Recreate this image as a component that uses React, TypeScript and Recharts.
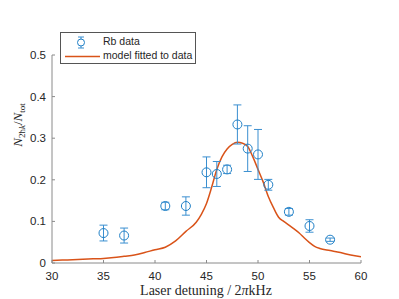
import React from "react"
import { ComposedChart, Scatter, Line, XAxis, YAxis, Legend } from "recharts"

const detuning = [35, 37, 41, 43, 45, 46, 47, 48, 49, 50, 51, 53, 55, 57]
const fraction = [0.072, 0.066, 0.137, 0.137, 0.218, 0.214, 0.225, 0.333, 0.275, 0.261, 0.188, 0.123, 0.089, 0.056]
const fractionErr = [0.019, 0.018, 0.009, 0.022, 0.037, 0.03, 0.01, 0.047, 0.055, 0.06, 0.013, 0.008, 0.015, 0.004]

const modelX = [30, 31, 32, 33, 34, 35, 36, 37, 38, 39, 40, 41, 42, 43, 44, 44.5, 45, 45.5, 46, 46.5, 47, 47.5, 48, 48.5, 49, 49.5, 50, 50.5, 51, 51.5, 52, 52.5, 53, 53.5, 54, 54.5, 55, 55.5, 56, 57, 58, 59, 60]
const modelY = [0.006, 0.007, 0.008, 0.009, 0.01, 0.011, 0.013, 0.016, 0.019, 0.025, 0.032, 0.038, 0.053, 0.076, 0.098, 0.117, 0.143, 0.182, 0.225, 0.255, 0.274, 0.285, 0.29, 0.288, 0.28, 0.255, 0.225, 0.195, 0.16, 0.133, 0.11, 0.1, 0.091, 0.082, 0.072, 0.06, 0.049, 0.04, 0.035, 0.03, 0.025, 0.019, 0.015]

const xTicks = [30, 35, 40, 45, 50, 55, 60]
const yTicks = [0, 0.1, 0.2, 0.3, 0.4, 0.5]

const BLUE = "#1f7fc6"
const BAR_BLUE = "#3a8fd0"
const ORANGE = "#D95319"
const AXIS = "#8a8a8a"
const TEXT = "#262626"
const SANS = "'Liberation Sans', Arial, sans-serif"
const SERIF = "'Liberation Serif', 'DejaVu Serif', serif"

const rbData = detuning.map((x, i) => ({ x, y: fraction[i] }))
const errBars = detuning.map((x, i) => [
  { x, y: fraction[i] - fractionErr[i] },
  { x, y: fraction[i] + fractionErr[i] },
])
const modelData = modelX.map((x, i) => ({ x, y: modelY[i] }))

const XTick = (props: any) => {
  const { x, y, payload } = props
  return (
    <g>
      <line x1={x} x2={x} y1={y} y2={y - 3} stroke={AXIS} strokeWidth={1} />
      <text x={x} y={y + 17} textAnchor="middle" fontSize={11.5} fontFamily={SANS} fill={TEXT}>
        {payload.value}
      </text>
    </g>
  )
}

const YTick = (props: any) => {
  const { x, y, payload } = props
  return (
    <g>
      <line x1={x} x2={x + 3} y1={y} y2={y} stroke={AXIS} strokeWidth={1} />
      <text x={x - 6} y={y + 4} textAnchor="end" fontSize={11.5} fontFamily={SANS} fill={TEXT}>
        {payload.value}
      </text>
    </g>
  )
}

const OpenCircle = (props: any) => {
  const { cx, cy } = props
  return <circle cx={cx} cy={cy} r={4.5} fill="none" stroke={BLUE} strokeWidth={1} />
}

const Cap = (props: any) => {
  const { cx, cy, index } = props
  return <line key={index} x1={cx - 4} x2={cx + 4} y1={cy} y2={cy} stroke={BAR_BLUE} strokeWidth={1} />
}

const LegendBox = () => (
  <div
    style={{
      width: 134,
      height: 30,
      border: "1px solid #555",
      background: "#fff",
      fontFamily: SANS,
      fontSize: 10.5,
      color: TEXT,
      position: "relative",
    }}
  >
    <svg width={40} height={30} style={{ position: "absolute", left: 0, top: 0 }}>
      <line x1={20} x2={20} y1={4} y2={15} stroke={BAR_BLUE} strokeWidth={1} />
      <line x1={17} x2={23} y1={4} y2={4} stroke={BAR_BLUE} strokeWidth={1} />
      <line x1={17} x2={23} y1={15} y2={15} stroke={BAR_BLUE} strokeWidth={1} />
      <circle cx={20} cy={9.5} r={3.5} fill="#fff" stroke={BLUE} strokeWidth={1} />
      <line x1={4} x2={39} y1={23.5} y2={23.5} stroke={ORANGE} strokeWidth={1.5} />
    </svg>
    <div style={{ position: "absolute", left: 42, top: 2, lineHeight: "13px", whiteSpace: "nowrap" }}>Rb data</div>
    <div style={{ position: "absolute", left: 42, top: 16, lineHeight: "13px", whiteSpace: "nowrap" }}>model fitted to data</div>
  </div>
)

const YLabel = () => (
  <text
    transform="translate(22,125) rotate(-90)"
    textAnchor="middle"
    fontFamily={SERIF}
    fontSize={13}
    fill={TEXT}
  >
    <tspan fontStyle="italic">N</tspan>
    <tspan fontSize={9} dy={3}>
      2ħ<tspan fontStyle="italic">k</tspan>
    </tspan>
    <tspan dy={-3}>/</tspan>
    <tspan fontStyle="italic">N</tspan>
    <tspan fontSize={9} dy={3}>tot</tspan>
  </text>
)

const XLabel = () => (
  <text x={206} y={295} textAnchor="middle" fontFamily={SERIF} fontSize={14} fill={TEXT}>
    Laser detuning / 2<tspan fontStyle="italic">π</tspan>kHz
  </text>
)

export default function App() {
  return (
    <div style={{ position: "absolute", left: 0, top: 0, width: 399, height: 299, background: "#fff" }}>
      <ComposedChart width={399} height={299} margin={{ top: 23, right: 38, bottom: 6, left: 2 }}>
        <XAxis
          dataKey="x"
          type="number"
          domain={[30, 60]}
          ticks={xTicks}
          interval={0}
          allowDataOverflow
          stroke={AXIS}
          tickLine={false}
          tickSize={0}
          tickMargin={0}
          tick={<XTick />}
          height={30}
          label={<XLabel />}
        />
        <YAxis
          type="number"
          domain={[0, 0.5]}
          ticks={yTicks}
          interval={0}
          allowDataOverflow
          stroke={AXIS}
          tickLine={false}
          tickSize={0}
          tickMargin={0}
          tick={<YTick />}
          width={50}
          label={<YLabel />}
        />
        <Legend
          verticalAlign="top"
          align="left"
          content={() => <LegendBox />}
          wrapperStyle={{ left: 60, top: 32, width: 136, height: 32 }}
        />
        <Line
          data={modelData}
          dataKey="y"
          type="monotone"
          stroke={ORANGE}
          strokeWidth={1.5}
          dot={false}
          isAnimationActive={false}
          legendType="none"
        />
        {errBars.map((bar, i) => (
          <Line
            key={`err-${i}`}
            data={bar}
            dataKey="y"
            type="linear"
            stroke={BAR_BLUE}
            strokeWidth={1}
            dot={<Cap />}
            activeDot={false}
            isAnimationActive={false}
            legendType="none"
          />
        ))}
        <Scatter data={rbData} dataKey="y" shape={<OpenCircle />} isAnimationActive={false} />
      </ComposedChart>
    </div>
  )
}
